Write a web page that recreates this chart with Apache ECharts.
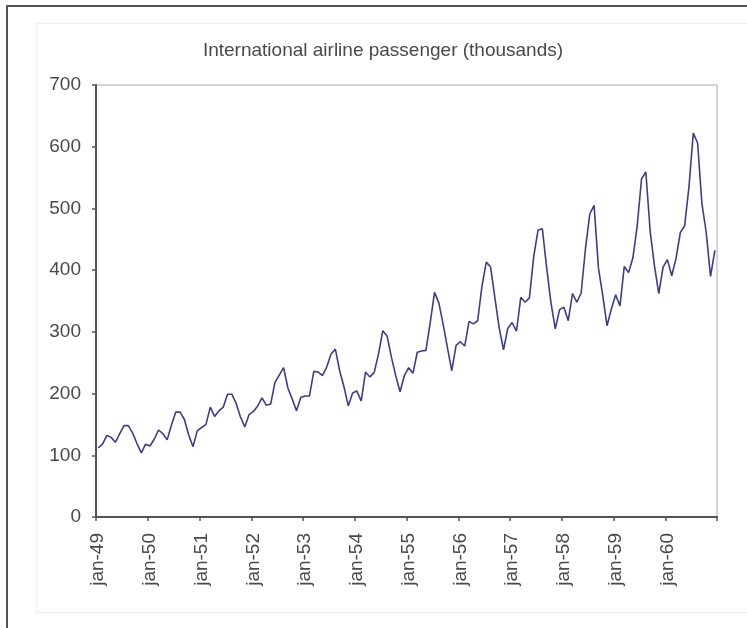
<!DOCTYPE html>
<html>
<head>
<meta charset="utf-8">
<style>
  html, body { margin: 0; padding: 0; background: #fff; }
  #chart { position: absolute; left: 0; top: 0; width: 747px; height: 628px; }
  #frame { position: absolute; left: 6px; top: 5px; right: 0; bottom: 0;
           border-top: 2px solid #555; border-left: 2px solid #555; pointer-events: none; }
  #inner { position: absolute; left: 36px; top: 23px; right: 0; bottom: 15px;
           border-top: 1px solid #f0f0f0; border-left: 1px solid #f0f0f0; border-bottom: 1px solid #f0f0f0;
           pointer-events: none; }
</style>
<script src="https://cdn.jsdelivr.net/npm/echarts@6/dist/echarts.min.js"></script>
</head>
<body>
<div id="chart"></div>
<div id="inner"></div>
<div id="frame"></div>
<script>
// Monthly international airline passengers, thousands, 1949-1960
const years = ['49', '50', '51', '52', '53', '54', '55', '56', '57', '58', '59', '60'];
const p1949 = [112, 118, 132, 129, 121, 135, 148, 148, 136, 119, 104, 118];
const p1950 = [115, 126, 141, 135, 125, 149, 170, 170, 158, 133, 114, 140];
const p1951 = [145, 150, 178, 163, 172, 178, 199, 199, 184, 162, 146, 166];
const p1952 = [171, 180, 193, 181, 183, 218, 230, 242, 209, 191, 172, 194];
const p1953 = [196, 196, 236, 235, 229, 243, 264, 272, 237, 211, 180, 201];
const p1954 = [204, 188, 235, 227, 234, 264, 302, 293, 259, 229, 203, 229];
const p1955 = [242, 233, 267, 269, 270, 315, 364, 347, 312, 274, 237, 278];
const p1956 = [284, 277, 317, 313, 318, 374, 413, 405, 355, 306, 271, 306];
const p1957 = [315, 301, 356, 348, 355, 422, 465, 467, 404, 347, 305, 336];
const p1958 = [340, 318, 362, 348, 363, 435, 491, 505, 404, 359, 310, 337];
const p1959 = [360, 342, 406, 396, 420, 472, 548, 559, 463, 407, 362, 405];
const p1960 = [417, 391, 419, 461, 472, 535, 622, 606, 508, 461, 390, 432];
const monthNames = ['jan', 'feb', 'mar', 'apr', 'may', 'jun', 'jul', 'aug', 'sep', 'oct', 'nov', 'dec'];
const yTicks = [0, 100, 200, 300, 400, 500, 600, 700];

const yearly = [p1949, p1950, p1951, p1952, p1953, p1954, p1955, p1956, p1957, p1958, p1959, p1960];
const categories = [];
const passengers = [];
years.forEach((y, i) => {
  monthNames.forEach((m, j) => {
    categories.push(m + '-' + y);
    passengers.push(yearly[i][j]);
  });
});

const FONT = 'Liberation Sans, Arial, sans-serif';
const chart = echarts.init(document.getElementById('chart'), null, { renderer: 'canvas' });
chart.setOption({
  animation: false,
  backgroundColor: '#fff',
  title: {
    text: 'International airline passenger (thousands)',
    left: 378, top: 36, textAlign: 'center',
    textStyle: { fontFamily: FONT, fontSize: 19, fontWeight: 'normal', color: '#4a4a4a' }
  },
  grid: {
    left: 96, right: 30, top: 85, bottom: 111,
    show: true, borderColor: '#aaa', borderWidth: 1, backgroundColor: 'transparent'
  },
  xAxis: {
    type: 'category',
    data: categories,
    boundaryGap: true,
    axisLine: { lineStyle: { color: '#555', width: 2 } },
    axisTick: { show: true, interval: 11, length: 4, lineStyle: { color: '#555', width: 1.5 } },
    axisLabel: {
      interval: 11, rotate: 90, margin: 16,
      fontFamily: FONT, fontSize: 19, color: '#4a4a4a'
    },
    splitLine: { show: false }
  },
  yAxis: {
    type: 'value',
    min: yTicks[0], max: yTicks[yTicks.length - 1], interval: 100,
    axisLine: { show: true, lineStyle: { color: '#555', width: 2 } },
    axisTick: { show: true, length: 4, lineStyle: { color: '#555', width: 1.5 } },
    axisLabel: { margin: 15, fontFamily: FONT, fontSize: 19, color: '#4a4a4a' },
    splitLine: { show: false }
  },
  series: [{
    type: 'line',
    data: passengers,
    showSymbol: false,
    lineStyle: { color: '#3d3d8e', width: 1.6 },
    itemStyle: { color: '#3d3d8e' }
  }]
});
</script>
</body>
</html>
